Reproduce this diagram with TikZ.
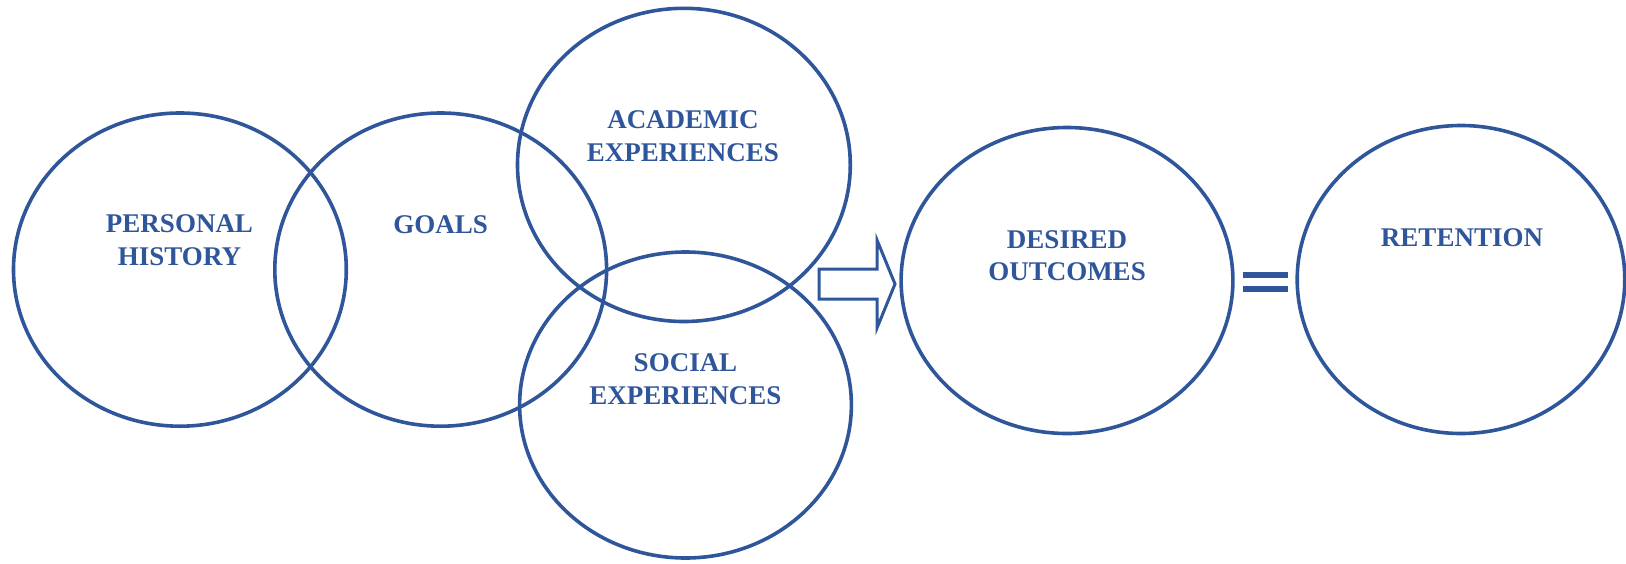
\documentclass[tikz,border=0pt]{standalone}
\usepackage{fontspec}
\setmainfont{Liberation Serif}
\usetikzlibrary{shapes.geometric}
\definecolor{wordblue}{RGB}{47,85,155}
\begin{document}
\begin{tikzpicture}[x=1pt,y=-1pt,
  ring/.style={draw=wordblue,line width=3.6pt,ellipse,inner sep=0pt},
  lbl/.style={text=wordblue,font=\bfseries\fontsize{27}{32.5}\selectfont,align=center,inner sep=0pt}]
\useasboundingbox (0,0) rectangle (1626,563);
% circles
\node[ring,minimum width=332.8pt,minimum height=313.2pt] (hist) at (179.9,269.6) {};
\node[ring,minimum width=331.8pt,minimum height=313.2pt] (goals) at (440.7,269.6) {};
\node[ring,minimum width=332.8pt,minimum height=313.2pt] (acad) at (683.9,164.9) {};
\node[ring,minimum width=331.8pt,minimum height=306pt] (soc) at (685.5,405) {};
\node[ring,minimum width=331.8pt,minimum height=306pt] (des) at (1067,280.5) {};
\node[ring,minimum width=327.6pt,minimum height=308pt] (ret) at (1461,279.5) {};
% labels
\node[lbl] (thist) at (179.5,240) {PERSONAL\\HISTORY};
\node[lbl] (tgoals) at (440.7,225) {GOALS};
\node[lbl] (tacad) at (683,136) {ACADEMIC\\EXPERIENCES};
\node[lbl] (tsoc) at (685.5,379) {SOCIAL\\EXPERIENCES};
\node[lbl] (tdes) at (1067,255.5) {DESIRED\\OUTCOMES};
\node[lbl] (tret) at (1462,237.5) {RETENTION};
% block arrow
\draw[wordblue,line width=3pt,line join=miter]
  (819,269) -- (877,269) -- (877,240) -- (895,284) -- (877,328) -- (877,299) -- (819,299) -- cycle;
% equals sign
\draw[wordblue,line width=6pt] (1243,274.5) -- (1288,274.5);
\draw[wordblue,line width=6pt] (1243,289) -- (1288,289);
\end{tikzpicture}
\end{document}
